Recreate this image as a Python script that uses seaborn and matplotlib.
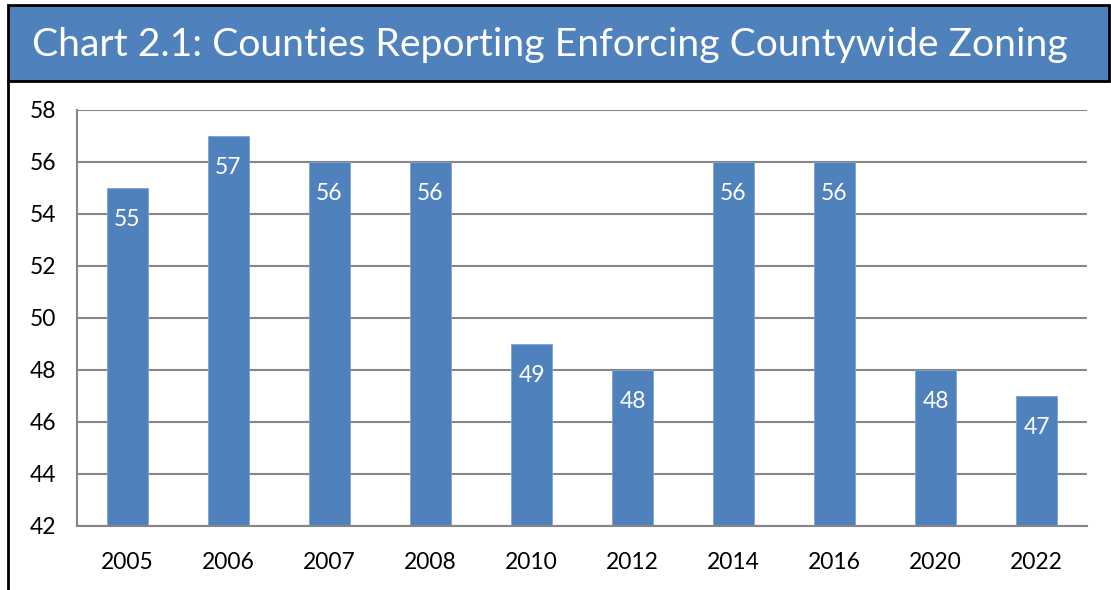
import matplotlib
matplotlib.use("Agg")
import matplotlib.pyplot as plt
import seaborn as sns
import pandas as pd
from matplotlib.patches import Rectangle
from matplotlib.lines import Line2D
from matplotlib.ticker import FixedLocator

years = ["2005", "2006", "2007", "2008", "2010", "2012", "2014", "2016", "2020", "2022"]
counties = [55, 57, 56, 56, 49, 48, 56, 56, 48, 47]
y_ticks = [42, 44, 46, 48, 50, 52, 54, 56, 58]
title = "Chart 2.1: Counties Reporting Enforcing Countywide Zoning"

sns.set_style("white")
plt.rcParams['font.family'] = ['Lato', 'DejaVu Sans']

df = pd.DataFrame({"year": years, "count": counties})

W, H = 1111, 590
fig = plt.figure(figsize=(W / 100, H / 100), dpi=100)
ax = fig.add_axes([77 / W, 1 - 526 / H, (1087 - 77) / W, (526 - 110) / H])

sns.barplot(data=df, x="year", y="count", color="#4F81BD", width=0.4,
            saturation=1, edgecolor="#7FA3D4", linewidth=0.6, ax=ax)

ax.set_ylim(42, 58)
ax.set_xlim(-0.5, len(years) - 0.5)
ax.set_yticks(y_ticks)
ax.yaxis.grid(True, color="#868686", linewidth=1.5)
ax.set_axisbelow(True)
for s in ["top", "right"]:
    ax.spines[s].set_visible(False)
for s in ["left", "bottom"]:
    ax.spines[s].set_color("#868686")
    ax.spines[s].set_linewidth(1.5)

ax.tick_params(axis="x", which="major", length=0, pad=19, labelsize=16.5, labelcolor="black")
ax.xaxis.set_minor_locator(FixedLocator([i - 0.5 for i in range(len(years) + 1)]))
ax.tick_params(axis="x", which="minor", length=7, width=1.5, color="#868686")
ax.tick_params(axis="y", length=6, width=1.5, color="#868686", labelsize=16.5,
               labelcolor="black", pad=9)
ax.set_xlabel("")
ax.set_ylabel("")

for cont in ax.containers:
    ax.bar_label(cont, labels=[str(v) for v in counties], padding=-30,
                 color="white", fontsize=16.5)

# Title banner
fig.patches.append(Rectangle((8 / W, 1 - 81 / H), (1109 - 8) / W, (81 - 5) / H,
                             transform=fig.transFigure, facecolor="#4F81BD",
                             edgecolor="black", linewidth=2, zorder=0))
fig.text(550 / W, 1 - 45 / H, title, color="white", fontsize=28.2,
         ha="center", va="center")
fig.lines.append(Line2D([8 / W, 8 / W], [0, 1 - 81 / H], transform=fig.transFigure,
                        color="black", linewidth=2))

fig.savefig("out.png", dpi=100)
